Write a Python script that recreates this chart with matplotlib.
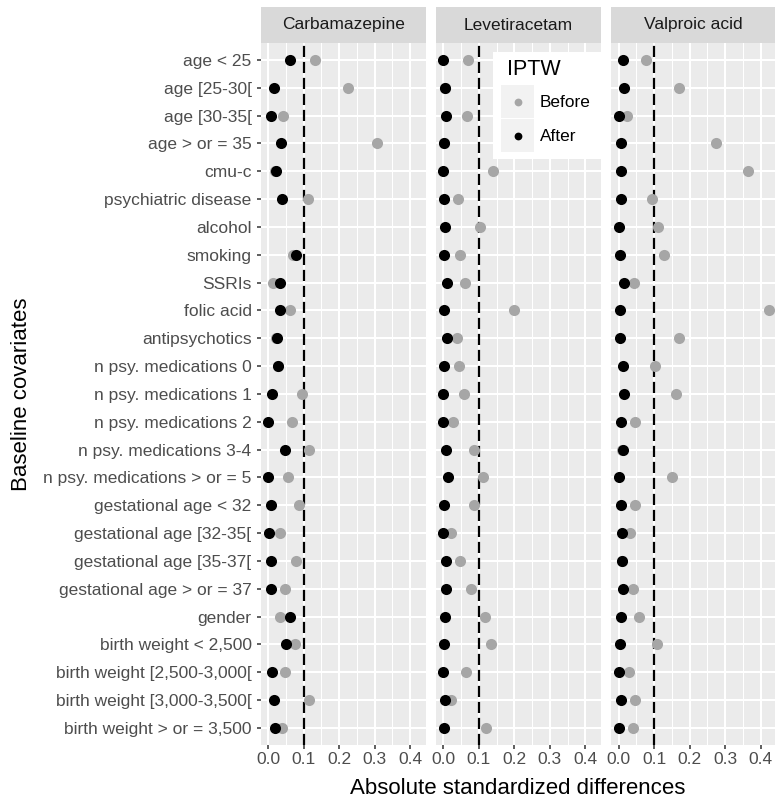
import numpy as np
import matplotlib
matplotlib.use("Agg")
import matplotlib.pyplot as plt
from matplotlib.patches import Rectangle
from matplotlib.lines import Line2D

plt.rcParams['font.family'] = ['Liberation Sans', 'DejaVu Sans']

covariates = [
    "age < 25", "age [25-30[", "age [30-35[", "age > or = 35", "cmu-c",
    "psychiatric disease", "alcohol", "smoking", "SSRIs", "folic acid",
    "antipsychotics", "n psy. medications 0", "n psy. medications 1",
    "n psy. medications 2", "n psy. medications 3-4",
    "n psy. medications > or = 5", "gestational age < 32",
    "gestational age [32-35[", "gestational age [35-37[",
    "gestational age > or = 37", "gender", "birth weight < 2,500",
    "birth weight [2,500-3,000[", "birth weight [3,000-3,500[",
    "birth weight > or = 3,500",
]
drugs = ["Carbamazepine", "Levetiracetam", "Valproic acid"]
nan = np.nan

carb_before = [0.132, 0.225, 0.041, 0.306, 0.020, 0.111, nan, 0.071, 0.013, 0.061,
               0.022, 0.027, 0.096, 0.066, 0.115, 0.055, 0.087, 0.033, 0.079,
               0.048, 0.033, 0.075, 0.048, 0.115, 0.038]
carb_after = [0.063, 0.016, 0.007, 0.036, 0.023, 0.040, nan, 0.078, 0.033, 0.033,
              0.024, 0.029, 0.011, 0.000, 0.049, 0.000, 0.007, 0.002, 0.008,
              0.008, 0.062, 0.051, 0.011, 0.016, 0.020]
leve_before = [0.068, 0.004, 0.067, 0.002, 0.139, 0.042, 0.104, 0.046, 0.062, 0.199,
               0.037, 0.043, 0.058, 0.027, 0.085, 0.111, 0.085, 0.021, 0.046,
               0.077, 0.118, 0.133, 0.063, 0.021, 0.119]
leve_after = [0.000, 0.005, 0.008, 0.002, 0.000, 0.002, 0.004, 0.002, 0.011, 0.002,
              0.011, 0.002, 0.000, 0.000, 0.008, 0.012, 0.002, 0.000, 0.006,
              0.006, 0.004, 0.002, 0.000, 0.004, 0.002]
valp_before = [0.077, 0.170, 0.023, 0.274, 0.363, 0.093, 0.112, 0.127, 0.044, 0.4225,
               0.169, 0.103, 0.161, 0.047, 0.010, 0.149, 0.047, 0.031, 0.008,
               0.040, 0.058, 0.107, 0.028, 0.045, 0.039]
valp_after = [0.011, 0.015, 0.000, 0.007, 0.006, 0.006, 0.002, 0.004, 0.015, 0.004,
              0.004, 0.011, 0.015, 0.007, 0.011, 0.002, 0.007, 0.009, 0.009,
              0.011, 0.006, 0.004, 0.002, 0.006, 0.000]

befores = [carb_before, leve_before, valp_before]
afters = [carb_after, leve_after, valp_after]
threshold = 0.1
xticks = [0.0, 0.1, 0.2, 0.3, 0.4]

W, H = 775, 800
fig = plt.figure(figsize=(W / 100, H / 100), dpi=100)
fig.patch.set_facecolor('white')


def fx(px):
    return px / W


def fy(py):
    return 1 - py / H


top_px, bot_px, strip_top = 43.3, 744.5, 6.7
scale = 355.0
vmax = np.nanmax(np.concatenate([np.array(b + a, dtype=float) for b, a in zip(befores, afters)]))
xlo, xhi = -0.05 * vmax, 1.05 * vmax
pw = (xhi - xlo) * scale
lefts = [260.6, 260.6 + 175.3, 260.6 + 2 * 175.3]
n = len(covariates)
ypos = np.arange(n)

for i, drug in enumerate(drugs):
    left = lefts[i]
    ax = fig.add_axes([fx(left), fy(bot_px), pw / W, (bot_px - top_px) / H])
    ax.set_facecolor('#EBEBEB')
    for s in ax.spines.values():
        s.set_visible(False)
    ax.set_xlim(xlo, xhi)
    ax.set_ylim(n - 1 + 0.6, -0.6)
    ax.set_xticks(xticks)
    ax.set_xticklabels([f"{t:.1f}" for t in xticks])
    ax.set_xticks([0.05, 0.15, 0.25, 0.35], minor=True)
    ax.set_yticks(ypos)
    ax.set_axisbelow(True)
    ax.grid(which='major', color='white', linewidth=1.5)
    ax.grid(which='minor', axis='x', color='white', linewidth=0.75)
    ax.tick_params(axis='x', which='major', length=3, width=1.1, color='#333333',
                   labelcolor='#4D4D4D', labelsize=12.5, pad=2.5)
    ax.tick_params(axis='x', which='minor', length=0)
    if i == 0:
        ax.set_yticklabels(covariates)
        ax.tick_params(axis='y', length=3, width=1.1, color='#333333',
                       labelcolor='#4D4D4D', labelsize=12.5, pad=3.5)
    else:
        ax.set_yticklabels([])
        ax.tick_params(axis='y', length=0)
    ax.axvline(threshold, color='black', linestyle=(0, (5, 2.2)), linewidth=1.6, zorder=2)
    ax.scatter(befores[i], ypos, s=64, color='#A6A6A6', linewidths=0, zorder=3)
    ax.scatter(afters[i], ypos, s=64, color='black', linewidths=0, zorder=4)

    sax = fig.add_axes([fx(left), fy(top_px), pw / W, (top_px - strip_top) / H])
    sax.set_facecolor('#D9D9D9')
    for s in sax.spines.values():
        s.set_visible(False)
    sax.set_xticks([])
    sax.set_yticks([])
    sax.text(0.5, 0.5, drug, ha='center', va='center', fontsize=12.5,
             color='#1A1A1A', transform=sax.transAxes)

# axis titles
fig.text(fx(518), fy(789), "Absolute standardized differences", ha='center',
         va='center', fontsize=16, color='black')
fig.text(fx(22), fy(394), "Baseline covariates", ha='center', va='center',
         rotation=90, fontsize=16, color='black')

# legend (ggplot-style, inside the middle panel)
leg_bg = Rectangle((fx(493), fy(159)), (601 - 493) / W, (159 - 52) / H,
                   transform=fig.transFigure, facecolor='white', edgecolor='none', zorder=10)
fig.add_artist(leg_bg)
fig.text(fx(507), fy(75), "IPTW", ha='left', va='baseline', fontsize=15.5,
         color='black', zorder=11)
legend_items = [("Before", '#A6A6A6'), ("After", 'black')]
for k, (lab, col) in enumerate(legend_items):
    y0 = 85.3 + k * 34
    box = Rectangle((fx(501), fy(y0 + 33)), 33 / W, 33 / H, transform=fig.transFigure,
                    facecolor='#F2F2F2', edgecolor='none', zorder=11)
    fig.add_artist(box)
    fig.add_artist(Line2D([fx(517.5)], [fy(y0 + 17)], marker='o', markersize=5.6,
                          color=col, markeredgewidth=0, linestyle='none',
                          transform=fig.transFigure, zorder=12))
    fig.text(fx(540), fy(y0 + 17), lab, ha='left', va='center', fontsize=12.4,
             color='black', zorder=12)

fig.savefig("out.png", dpi=100)
